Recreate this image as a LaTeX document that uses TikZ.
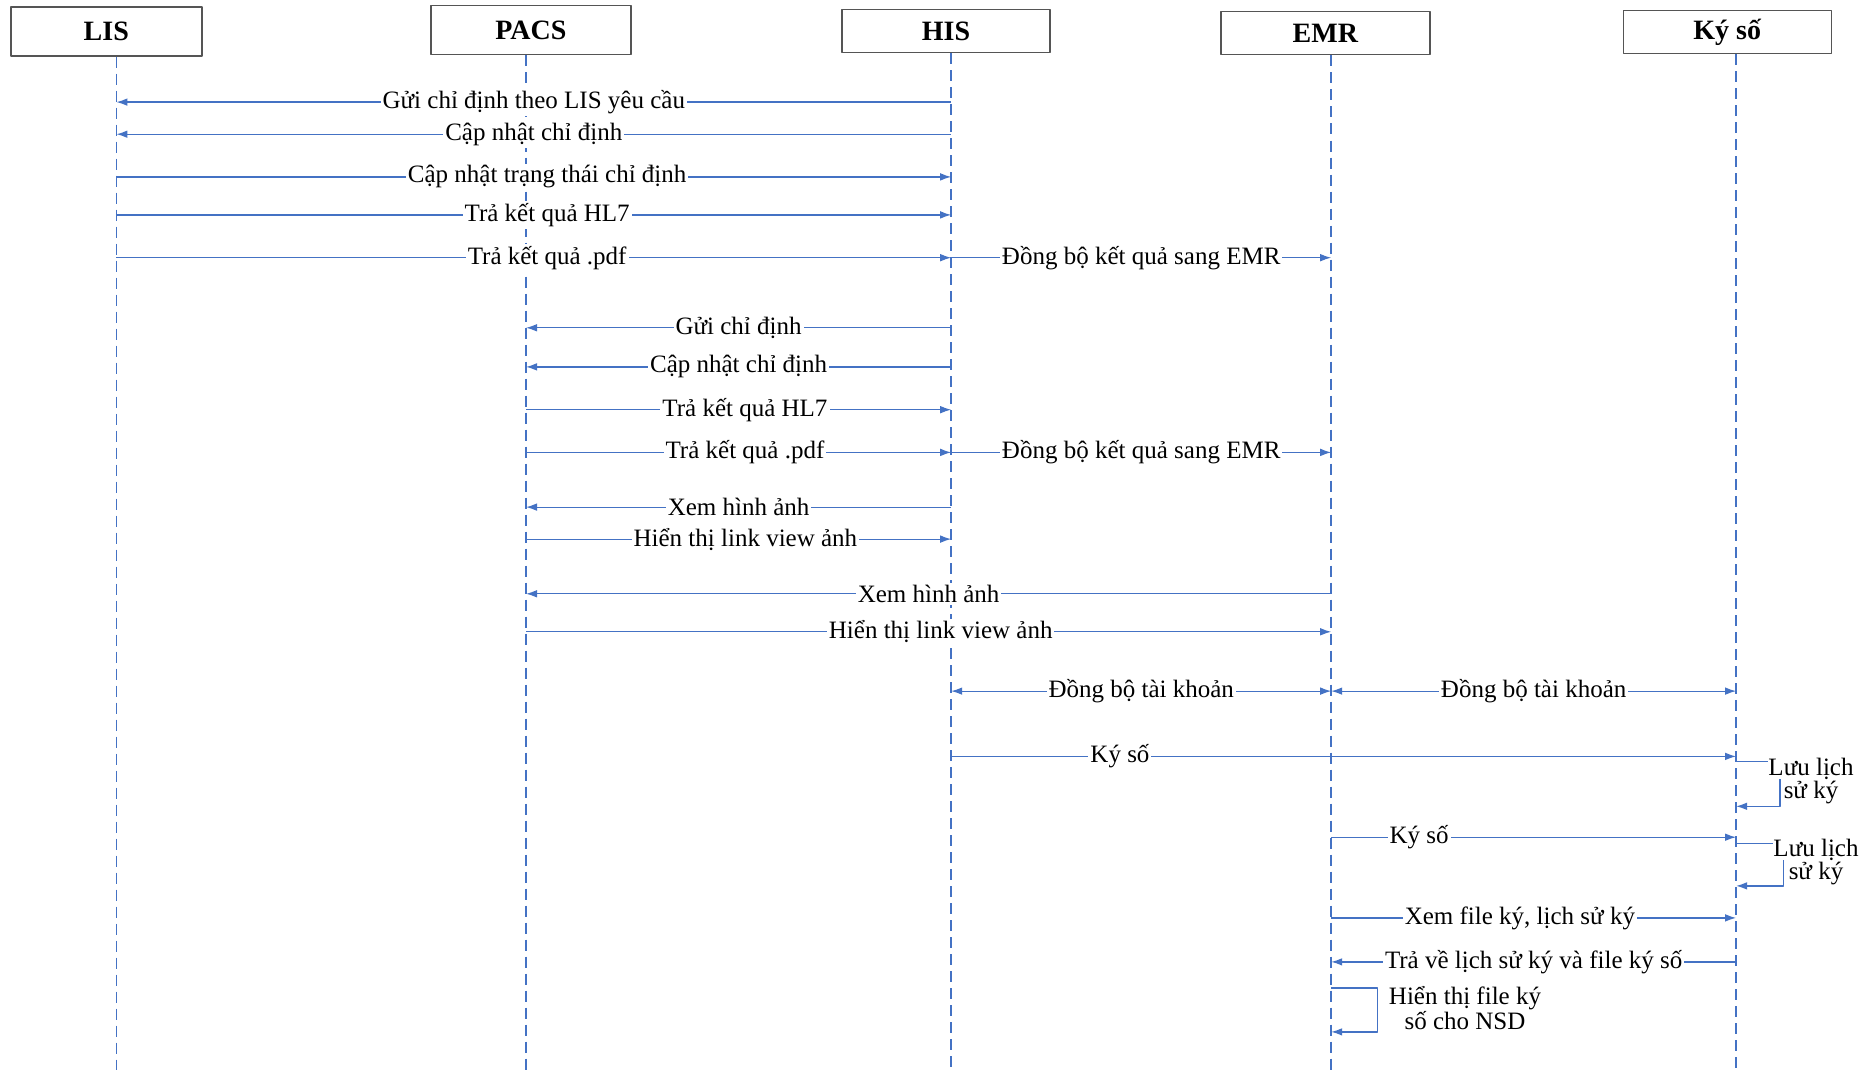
\documentclass[tikz,border=0pt]{standalone}
\usepackage{fontspec}
\setmainfont{Liberation Serif}
\usetikzlibrary{arrows.meta}
\definecolor{seqblue}{RGB}{68,114,196}
\definecolor{boxgray}{RGB}{85,85,85}
\newcommand{\whiterow}[1]{{\setlength{\fboxsep}{0pt}\colorbox{white}{#1}}}
\begin{document}
\begin{tikzpicture}[x=0.5pt,y=-0.5pt,>={Latex[length=5.5pt,width=3.8pt]},line join=bevel,
  actor/.style={draw=boxgray,line width=0.7pt,fill=white,inner sep=0pt,font=\fontsize{14}{16}\selectfont\bfseries},
  lifeline/.style={seqblue,line width=0.9pt,dash pattern=on 5.5pt off 3pt},
  msg/.style={seqblue,line width=0.6pt},
  lbl/.style={fill=white,inner sep=1pt,text=black,font=\fontsize{12.5}{14}\selectfont},
  loopnote/.style={inner sep=1pt,text=black,align=center,font=\fontsize{12.5}{9.5}\selectfont}]
\useasboundingbox (0,0) rectangle (1862,1070);
%%
\node (LIS) at (106.3,31.5) [actor,minimum width=95.5pt,minimum height=24.5pt] {LIS};
  \node (PACS) at (530.8,30.3) [actor,minimum width=100pt,minimum height=24.5pt] {PACS};
  \node (HIS) at (946,31) [actor,minimum width=104pt,minimum height=21.5pt] {HIS};
  \node (EMR) at (1325.3,33.3) [actor,minimum width=104.5pt,minimum height=21.5pt] {EMR};
  \node (KYSO) at (1727.2,32) [actor,minimum width=104pt,minimum height=21.5pt] {Ký số};
%
\coordinate (lis) at (116.4,1070);
  \coordinate (pacs) at (526,1070);
  \coordinate (his) at (951.2,1070);
  \coordinate (emr) at (1331.2,1070);
  \coordinate (kyso) at (1736.1,1070);
  \draw [lifeline] (lis |- LIS.south) -- (lis);
  \draw [lifeline] (pacs |- PACS.south) -- (pacs);
  \draw [lifeline] (his |- HIS.south) -- (his);
  \draw [lifeline] (emr |- EMR.south) -- (emr);
  \draw [lifeline] (kyso |- KYSO.south) -- (kyso);
%
\coordinate (r1) at (0,102.1);
  \coordinate (r2) at (0,134.2);
  \coordinate (r3) at (0,176.9);
  \coordinate (r4) at (0,214.9);
  \coordinate (r5) at (0,257.7);
  \coordinate (r6) at (0,327.8);
  \coordinate (r7) at (0,366.9);
  \coordinate (r8) at (0,409.7);
  \coordinate (r9) at (0,452.4);
  \coordinate (r10) at (0,507.1);
  \coordinate (r11) at (0,539.1);
  \coordinate (r12) at (0,593.8);
  \coordinate (r13) at (0,631.8);
  \coordinate (r14) at (0,691.1);
  \coordinate (r15) at (0,756.4);
  \coordinate (r16a) at (0,761.2);
  \coordinate (r16b) at (0,806.3);
  \coordinate (r17) at (0,837.2);
  \coordinate (r18a) at (0,843.1);
  \coordinate (r18b) at (0,885.9);
  \coordinate (r19) at (0,917.9);
  \coordinate (r20) at (0,961.9);
  \coordinate (r21a) at (0,988);
  \coordinate (r21b) at (0,1031.9);
%
\draw [msg,->] (his |- r1) -- node[lbl] {Gửi chỉ định theo LIS yêu cầu} (lis |- r1);
  \draw [msg,->] (his |- r2) -- node[lbl] {Cập nhật chỉ định} (lis |- r2);
  \draw [msg,->] (lis |- r3) -- node[lbl,pos=0.516] {Cập nhật trạng thái chỉ định} (his |- r3);
  \draw [msg,->] (lis |- r4) -- node[lbl,pos=0.516] {Trả kết quả HL7} (his |- r4);
  \draw [msg,->] (lis |- r5) -- node[lbl,pos=0.516] {Trả kết quả .pdf} (his |- r5);
  \draw [msg,->] (his |- r5) -- node[lbl] {Đồng bộ kết quả sang EMR} (emr |- r5);
%
\draw [msg,->] (his |- r6) -- node[lbl] {Gửi chỉ định} (pacs |- r6);
  \draw [msg,->] (his |- r7) -- node[lbl] {Cập nhật chỉ định} (pacs |- r7);
  \draw [msg,->] (pacs |- r8) -- node[lbl,pos=0.515] {Trả kết quả HL7} (his |- r8);
  \draw [msg,->] (pacs |- r9) -- node[lbl,pos=0.515] {Trả kết quả .pdf} (his |- r9);
  \draw [msg,->] (his |- r9) -- node[lbl] {Đồng bộ kết quả sang EMR} (emr |- r9);
  \draw [msg,->] (his |- r10) -- node[lbl] {Xem hình ảnh} (pacs |- r10);
  \draw [msg,->] (pacs |- r11) -- node[lbl,pos=0.516] {Hiển thị link view ảnh} (his |- r11);
  \draw [msg,->] (emr |- r12) -- node[lbl] {Xem hình ảnh} (pacs |- r12);
  \draw [msg,->] (pacs |- r13) -- node[lbl,pos=0.515] {Hiển thị link view ảnh} (emr |- r13);
%
\draw [msg,<->] (his |- r14) -- node[lbl] {Đồng bộ tài khoản} (emr |- r14);
  \draw [msg,<->] (emr |- r14) -- node[lbl] {Đồng bộ tài khoản} (kyso |- r14);
  \draw [msg,->] (his |- r15) -- node[lbl,pos=0.215] {Ký số} (kyso |- r15);
  \coordinate (loop1) at (1780,783);
  \draw [msg,->] (kyso |- r16a) -| (loop1) |- (kyso |- r16b);
  \node (note1) at (1811,781) [loopnote] {\whiterow{Lưu lịch}\\sử ký};
  \draw [msg,->] (emr |- r17) -- node[lbl,pos=0.217] {Ký số} (kyso |- r17);
  \coordinate (loop2) at (1783.6,864);
  \draw [msg,->] (kyso |- r18a) -| (loop2) |- (kyso |- r18b);
  \node (note2) at (1816,862) [loopnote] {\whiterow{Lưu lịch}\\sử ký};
  \draw [msg,->] (emr |- r19) -- node[lbl,pos=0.466] {Xem file ký, lịch sử ký} (kyso |- r19);
  \draw [msg,->] (kyso |- r20) -- node[lbl] {Trả về lịch sử ký và file ký số} (emr |- r20);
  \coordinate (loop3) at (1377.5,1010);
  \draw [msg,->] (emr |- r21a) -| (loop3) |- (emr |- r21b);
  \node (note3) at (1465,1008) [loopnote,fill=white] {Hiển thị file ký\\số cho NSD};
%
\end{tikzpicture}
\end{document}
